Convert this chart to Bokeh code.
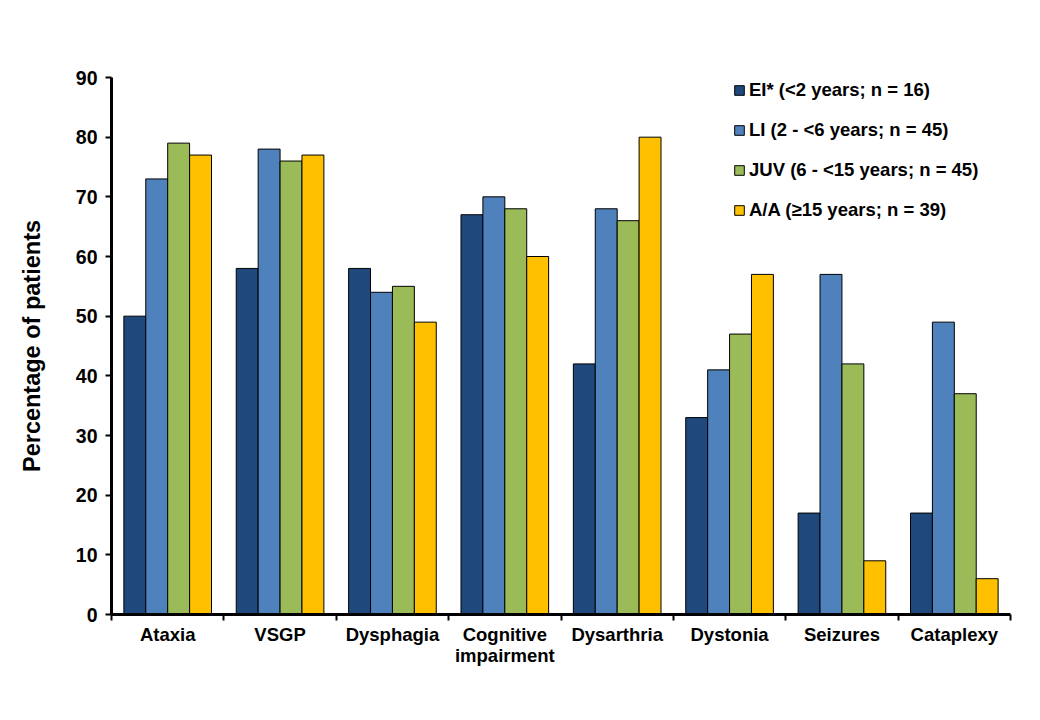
from bokeh.plotting import figure
from bokeh.models import FixedTicker, Legend, LegendItem, Range1d
from bokeh.embed import file_html
from bokeh.resources import INLINE

categories = ["Ataxia", "VSGP", "Dysphagia", "Cognitive\nimpairment", "Dysarthria",
              "Dystonia", "Seizures", "Cataplexy"]
series_names = ["EI* (<2 years; n = 16)", "LI (2 - <6 years; n = 45)",
                "JUV (6 - <15 years; n = 45)", "A/A (\u226515 years; n = 39)"]
ei = [50, 58, 58, 67, 42, 33, 17, 17]
li = [73, 78, 54, 70, 68, 41, 57, 49]
juv = [79, 76, 55, 68, 66, 47, 42, 37]
aa = [77, 77, 49, 60, 80, 57, 9, 6]
y_ticks = [0, 10, 20, 30, 40, 50, 60, 70, 80, 90]

colors = ["#1F497D", "#4F81BD", "#9BBB59", "#FFC000"]
series = [ei, li, juv, aa]

FONT = "Liberation Sans"
bar_w = 0.195

p = figure(frame_width=899, frame_height=537, width=1024, height=700,
           x_range=Range1d(0, len(categories)), y_range=Range1d(0, 90),
           output_backend="svg", toolbar_location=None,
           min_border_left=111, min_border_top=77, min_border_right=14, min_border_bottom=80)
p.outline_line_color = None
p.grid.visible = False
p.background_fill_color = "white"

items = []
for k, (vals, col, name) in enumerate(zip(series, colors, series_names)):
    xs = [i + 0.5 + (k - 1.5) * bar_w for i in range(len(categories))]
    r = p.vbar(x=xs, top=vals, width=bar_w, bottom=0, fill_color=col,
               line_color="black", line_width=1)
    items.append(LegendItem(label=name, renderers=[r]))

centers = [i + 0.5 for i in range(len(categories))]
bounds = [float(i) for i in range(len(categories) + 1)]
p.xaxis.ticker = FixedTicker(ticks=centers, minor_ticks=bounds)
p.xaxis.major_label_overrides = {c: lab for c, lab in zip(centers, categories)}
p.xaxis.major_tick_line_color = None
p.xaxis.minor_tick_out = 6
p.xaxis.minor_tick_in = 0
p.xaxis.minor_tick_line_color = "black"
p.xaxis.minor_tick_line_width = 2
p.xaxis.axis_line_width = 3
p.xaxis.major_label_text_font = FONT
p.xaxis.major_label_text_font_style = "bold"
p.xaxis.major_label_text_font_size = "18.5px"
p.xaxis.major_label_text_color = "black"
p.xaxis.major_label_text_line_height = 1.0
p.xaxis.major_label_standoff = 3

p.yaxis.ticker = FixedTicker(ticks=y_ticks)
p.yaxis.minor_tick_line_color = None
p.yaxis.major_tick_out = 6
p.yaxis.major_tick_in = 0
p.yaxis.major_tick_line_width = 2
p.yaxis.axis_line_width = 3
p.yaxis.major_label_text_font = FONT
p.yaxis.major_label_text_font_style = "bold"
p.yaxis.major_label_text_font_size = "19.5px"
p.yaxis.major_label_text_color = "black"
p.yaxis.major_label_standoff = 8
p.yaxis.axis_label = "Percentage of patients"
p.yaxis.axis_label_text_font = FONT
p.yaxis.axis_label_text_font_style = "bold"
p.yaxis.axis_label_text_font_size = "23.5px"
p.yaxis.axis_label_text_color = "black"
p.yaxis.axis_label_standoff = 28

legend = Legend(items=items, location=(622, 393))
legend.border_line_color = None
legend.background_fill_alpha = 0
legend.padding = 0
legend.margin = 0
legend.spacing = 18
legend.glyph_width = 12
legend.glyph_height = 12
legend.label_height = 22
legend.label_standoff = 4
legend.label_text_font = FONT
legend.label_text_font_style = "bold"
legend.label_text_font_size = "18.5px"
legend.label_text_color = "black"
p.add_layout(legend)

open("out.html", "w").write(file_html(p, INLINE))
